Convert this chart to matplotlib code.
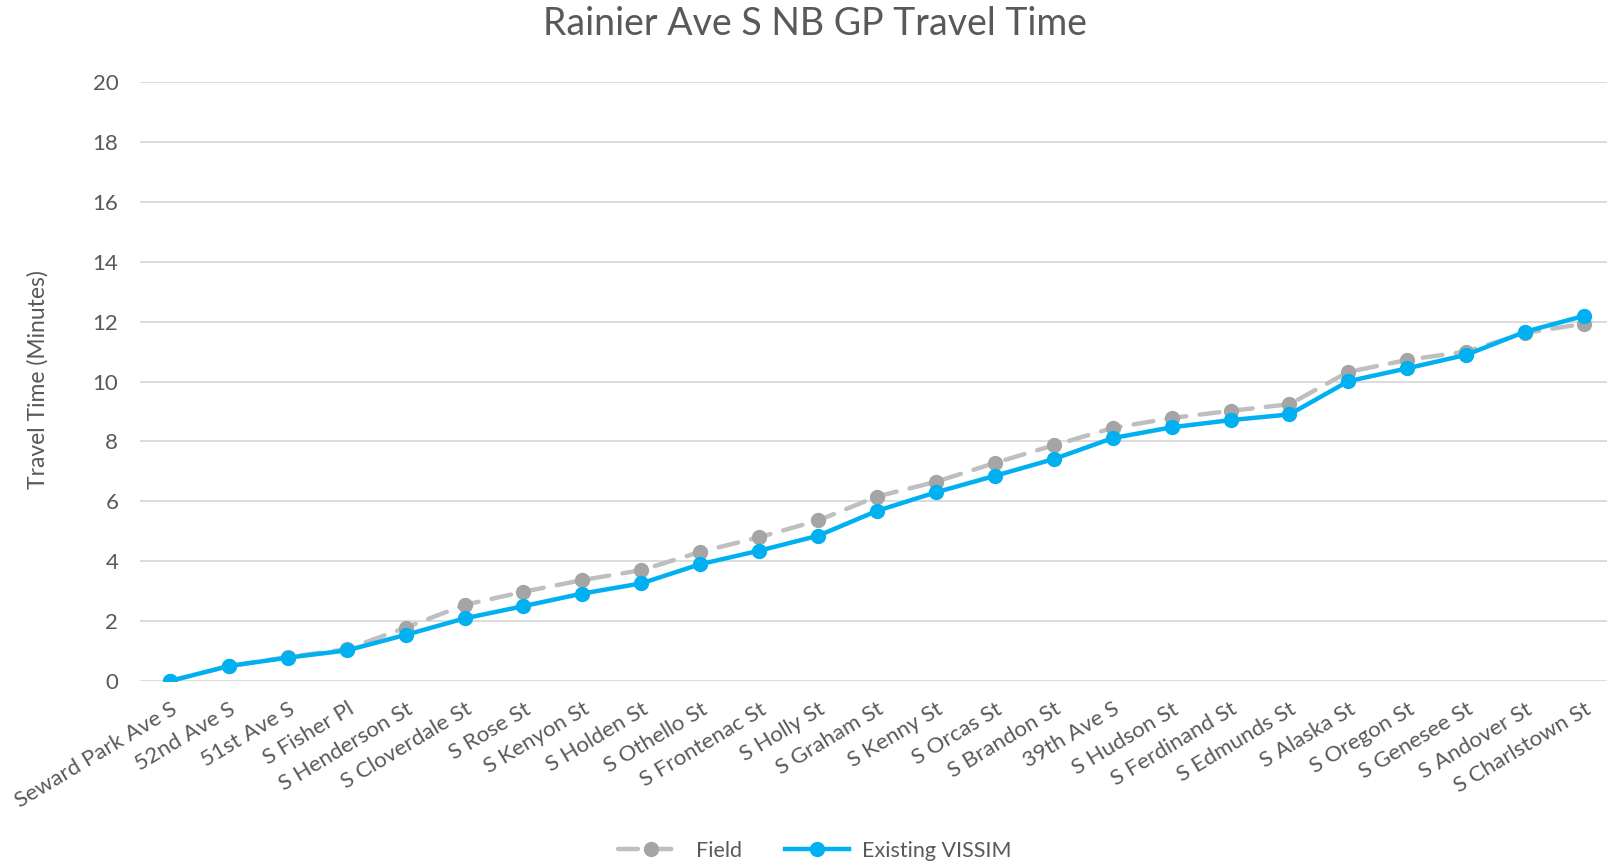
import matplotlib
matplotlib.use("Agg")
import matplotlib.pyplot as plt
from matplotlib.lines import Line2D

plt.rcParams['font.family'] = ['Lato', 'DejaVu Sans']

categories = ["Seward Park Ave S", "52nd Ave S", "51st Ave S", "S Fisher Pl", "S Henderson St",
              "S Cloverdale St", "S Rose St", "S Kenyon St", "S Holden St", "S Othello St",
              "S Frontenac St", "S Holly St", "S Graham St", "S Kenny St", "S Orcas St",
              "S Brandon St", "39th Ave S", "S Hudson St", "S Ferdinand St", "S Edmunds St",
              "S Alaska St", "S Oregon St", "S Genesee St", "S Andover St", "S Charlstown St"]

field = [0.0, 0.5, 0.8, 1.06, 1.78, 2.54, 2.98, 3.37, 3.70, 4.31,
         4.80, 5.36, 6.16, 6.65, 7.28, 7.87, 8.45, 8.78, 9.02, 9.24,
         10.32, 10.72, 11.0, 11.62, 11.93]

vissim = [0.0, 0.5, 0.78, 1.02, 1.54, 2.09, 2.50, 2.92, 3.26, 3.90,
          4.35, 4.85, 5.68, 6.30, 6.85, 7.41, 8.11, 8.47, 8.71, 8.90,
          10.01, 10.44, 10.89, 11.66, 12.19]

y_ticks = [0, 2, 4, 6, 8, 10, 12, 14, 16, 18, 20]

W, H = 1608, 865
fig = plt.figure(figsize=(W / 100, H / 100), dpi=100)
left, right = 140.5 / W, 1613.5 / W
bottom, top = 1 - 681 / H, 1 - 82 / H
ax = fig.add_axes([left, bottom, right - left, top - bottom])

x = list(range(len(categories)))
gray_line = '#BFBFBF'
gray_mark = '#A5A5A5'
blue = '#00B0F0'
txt = '#595959'

ax.plot(x, field, color=gray_line, lw=3.2, linestyle=(0, (4.5, 3)), dash_capstyle='round',
        marker='o', markersize=10, markerfacecolor=gray_mark, markeredgecolor=gray_mark,
        label='Field', zorder=3)
ax.plot(x, vissim, color=blue, lw=3.2, solid_capstyle='round',
        marker='o', markersize=10, markerfacecolor=blue, markeredgecolor=blue,
        label='Existing VISSIM', zorder=4)

ax.set_xlim(-0.5, len(categories) - 0.5)
ax.set_ylim(0, 20)
ax.set_yticks(y_ticks)
ax.set_yticklabels([str(v) for v in y_ticks])
ax.set_xticks(x)
ax.set_xticklabels(categories, rotation=31, ha='right', rotation_mode='anchor')

ax.grid(axis='y', color='#D9D9D9', lw=1.3)
ax.set_axisbelow(True)
for s in ax.spines.values():
    s.set_visible(False)
ax.tick_params(axis='both', length=0, colors=txt, labelsize=16)
ax.tick_params(axis='y', pad=16)
ax.tick_params(axis='x', pad=13)

fig.text(38 / W, 1 - 380 / H, 'Travel Time (Minutes)', rotation=90, ha='center', va='center',
         fontsize=16.5, color=txt)

fig.text(815 / W, 1 - 24 / H, 'Rainier Ave S NB GP Travel Time', ha='center', va='center',
         fontsize=27, color=txt)

handles = [
    Line2D([0], [0], color=gray_line, lw=3.2, linestyle=(0, (4.5, 3)), dash_capstyle='round',
           marker='o', markersize=10, markerfacecolor=gray_mark, markeredgecolor=gray_mark),
    Line2D([0], [0], color=blue, lw=3.2, marker='o', markersize=10,
           markerfacecolor=blue, markeredgecolor=blue),
]
fig.legend(handles, ['Field', 'Existing VISSIM'], loc='center', bbox_to_anchor=(815 / W, 1 - 851 / H),
           ncol=2, frameon=False, fontsize=15.5, labelcolor=txt, handlelength=3.0,
           columnspacing=2.0, handletextpad=0.6)

fig.savefig('out.png', dpi=100)
